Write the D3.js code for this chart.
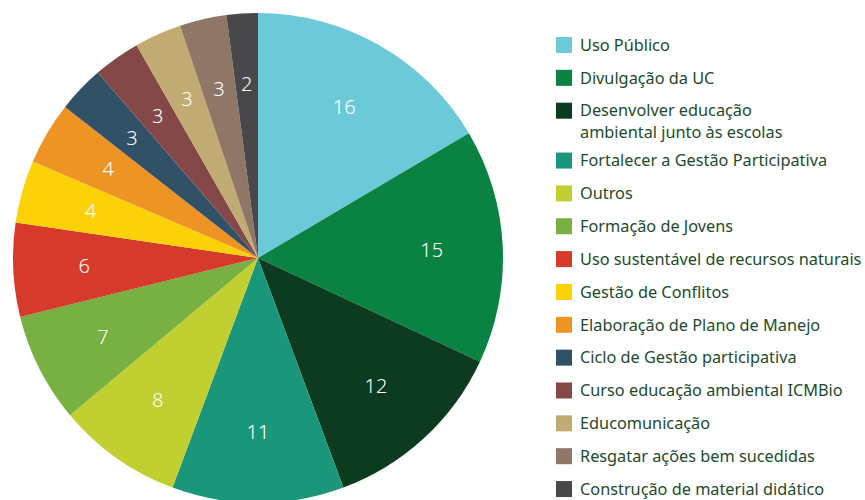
<!DOCTYPE html>
<html>
<head>
<meta charset="utf-8">
<script src="https://cdn.jsdelivr.net/npm/d3@7"></script>
<style>
  body { margin: 0; background: #fff; }
  svg { display: block; }
  .legend-label { font-family: "Noto Sans", sans-serif; font-size: 16.3px; fill: #1c4a2b; }
  .slice-label { font-family: "Noto Sans", sans-serif; font-size: 20px; fill: #fff; font-weight: 300; }
</style>
</head>
<body>
<svg id="chart" width="865" height="500"></svg>
<script>
const categories = [
  "Uso Público",
  "Divulgação da UC",
  "Desenvolver educação|ambiental junto às escolas",
  "Fortalecer a Gestão Participativa",
  "Outros",
  "Formação de Jovens",
  "Uso sustentável de recursos naturais",
  "Gestão de Conflitos",
  "Elaboração de Plano de Manejo",
  "Ciclo de Gestão participativa",
  "Curso educação ambiental ICMBio",
  "Educomunicação",
  "Resgatar ações bem sucedidas",
  "Construção de material didático"
];
const values = [16, 15, 12, 11, 8, 7, 6, 4, 4, 3, 3, 3, 3, 2];
const colors = ["#6ccad8", "#0a8241", "#0d3b1f", "#1a977a", "#c2cf31", "#78b142", "#d63a2a",
                "#fdd108", "#ee9424", "#305166", "#844849", "#c1ab73", "#907667", "#48474a"];

const svg = d3.select("#chart");
const cx = 258, cy = 258, r = 245;

const data = categories.map((c, i) => ({ name: c, value: values[i], color: colors[i] }));
const pie = d3.pie().value(d => d.value).sort(null);
const arc = d3.arc().innerRadius(0).outerRadius(r);
const labelArc = d3.arc().innerRadius(r * 0.71).outerRadius(r * 0.71);

const g = svg.append("g").attr("transform", `translate(${cx},${cy})`);
const arcs = pie(data);

g.selectAll("path").data(arcs).join("path")
  .attr("d", arc).attr("fill", d => d.data.color);

g.selectAll("text").data(arcs).join("text")
  .attr("class", "slice-label")
  .attr("transform", d => `translate(${labelArc.centroid(d)})`)
  .attr("text-anchor", "middle").attr("dy", "0.35em")
  .text(d => d.data.value);

// Legend
const legend = svg.append("g");
const item = legend.selectAll("g").data(data).join("g")
  .attr("transform", (d, i) => `translate(556,${45 + i * 32.85 + (i >= 3 ? 17 : 0)})`);

item.append("rect").attr("x", 0).attr("y", -8).attr("width", 16).attr("height", 16)
  .attr("fill", d => d.color);

item.append("text").attr("class", "legend-label").attr("x", 24)
  .each(function(d) {
    const lines = d.name.split("|");
    d3.select(this).selectAll("tspan").data(lines).join("tspan")
      .attr("x", 24).attr("dy", (l, j) => j === 0 ? "0.35em" : "22px").text(l => l);
  });
</script>
</body>
</html>
